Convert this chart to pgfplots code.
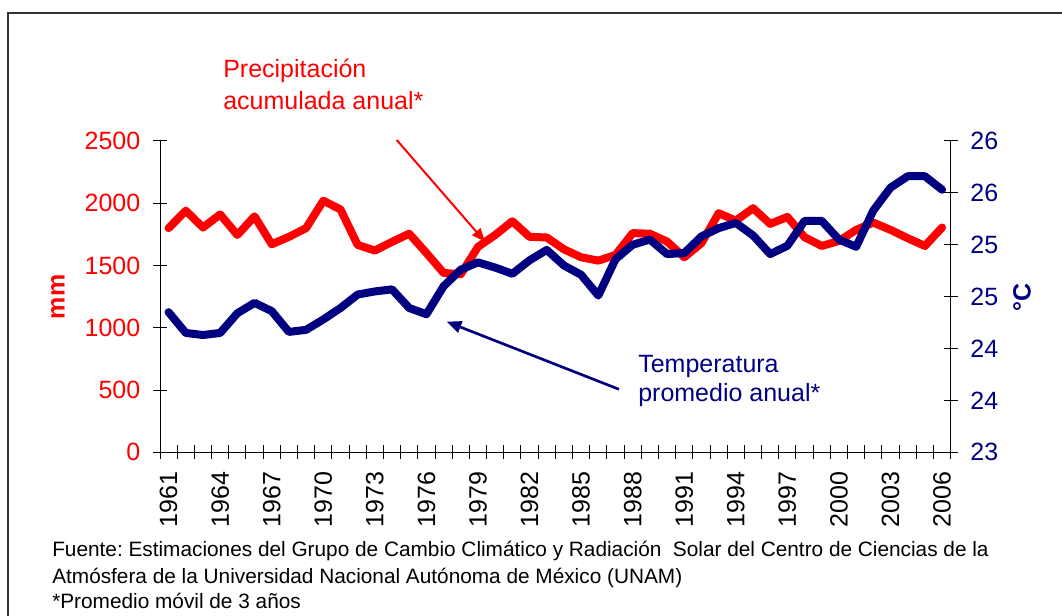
\documentclass[border=0pt]{standalone}
\usepackage{pgfplots}
\pgfplotsset{compat=1.18}
\usepackage{pgfplotstable}
\usepackage{fontspec}
\setmainfont{Liberation Sans}
\usetikzlibrary{arrows.meta}
\definecolor{myred}{HTML}{FF0000}
\definecolor{navy}{HTML}{000080}

\pgfplotstableread{
i mm
0 1800
1 1940
2 1805
3 1910
4 1745
5 1895
6 1670
7 1730
8 1800
9 2020
10 1950
11 1665
12 1620
13 1690
14 1755
15 1600
16 1440
17 1430
18 1650
19 1745
20 1855
21 1730
22 1725
23 1630
24 1566
25 1539
26 1585
27 1760
28 1755
29 1692
30 1566
31 1679
32 1920
33 1860
34 1960
35 1834
36 1890
37 1727
38 1657
39 1697
40 1786
41 1844
42 1786
43 1719
44 1657
45 1805
}\precip

\pgfplotstableread{
i t
0 24.35
1 24.15
2 24.13
3 24.15
4 24.34
5 24.44
6 24.36
7 24.16
8 24.18
9 24.28
10 24.39
11 24.52
12 24.55
13 24.57
14 24.39
15 24.33
16 24.60
17 24.76
18 24.83
19 24.78
20 24.72
21 24.85
22 24.95
23 24.80
24 24.71
25 24.51
26 24.86
27 25.00
28 25.05
29 24.91
30 24.92
31 25.08
32 25.16
33 25.21
34 25.09
35 24.91
36 24.99
37 25.23
38 25.23
39 25.05
40 24.98
41 25.33
42 25.55
43 25.66
44 25.66
45 25.53
}\temp

\newcommand{\bigf}{\fontsize{18.75}{20}\selectfont}
\newcommand{\smallf}{\fontsize{15.6}{17}\selectfont}

\begin{document}
\frenchspacing
\begin{tikzpicture}[x=0.75pt,y=0.75pt]
\useasboundingbox (0,0) rectangle (1062,616);
\draw[line width=1.5pt,black!80] (8,0) -- (8,603) -- (1062,603);

\begin{axis}[
  at={(120pt,122.78pt)}, anchor=south west,
  scale only axis, width=593pt, height=233.5pt,
  xmin=-0.5, xmax=45.5, ymin=0, ymax=2500,
  axis x line*=bottom, axis y line*=left,
  axis line style={line width=0.75pt,-},
  tick align=center, major tick length=10.5pt,
  tick style={black, line width=0.75pt},
  xtick={-0.5,0.5,...,45.5}, xticklabels={},
  extra x ticks={0,3,...,45},
  extra x tick labels={1961,1964,1967,1970,1973,1976,1979,1982,1985,1988,1991,1994,1997,2000,2003,2006},
  extra x tick style={major tick style={draw=none}, tick label style={rotate=90, anchor=east, font=\bigf, black, xshift=-6pt}},
  ytick={0,500,1000,1500,2000,2500}, yticklabels={0,500,1000,1500,2000,2500},
  yticklabel style={font=\bigf, text=myred, xshift=-6pt},
  clip=false,
]
\addplot[myred, line width=6pt, line join=round, line cap=round] table[x=i,y=mm]{\precip};
\end{axis}

\begin{axis}[
  at={(120pt,122.78pt)}, anchor=south west,
  scale only axis, width=593pt, height=233.5pt,
  xmin=-0.5, xmax=45.5, ymin=23, ymax=26,
  axis x line=none, axis y line*=right,
  axis line style={line width=0.75pt,-},
  tick align=center, major tick length=10.5pt,
  tick style={black, line width=0.75pt},
  ytick={23,23.5,24,24.5,25,25.5,26}, yticklabels={23,24,24,25,25,26,26},
  yticklabel style={font=\bigf, text=navy, xshift=6pt},
  clip=false,
]
\addplot[navy, line width=6pt, line join=round, line cap=round] table[x=i,y=t]{\temp};
\end{axis}

\node[anchor=base west, text=myred, font=\bigf, inner sep=0pt] at (223,538) {Precipitación};
\node[anchor=base west, text=myred, font=\bigf, inner sep=0pt] at (223,506) {acumulada anual*};
\draw[myred, line width=1.5pt, -{Triangle[length=10pt,width=8pt]}] (396.7,476) -- (485,374.3);

\node[anchor=base west, text=navy, font=\bigf, inner sep=0pt] at (638,243) {Temperatura};
\node[anchor=base west, text=navy, font=\bigf, inner sep=0pt] at (638,214) {promedio anual*};
\draw[navy, line width=2pt, -{Triangle[length=11pt,width=9pt]}] (619,226.7) -- (446.7,294.3);

\node[rotate=90, text=myred, font=\bigf\bfseries, inner sep=0pt] at (58,319) {mm};
\node[rotate=90, text=navy, font=\bigf\bfseries, inner sep=0pt] at (1022,319) {°C};

\node[anchor=base west, font=\smallf, inner sep=0pt] at (52,59) {Fuente: Estimaciones del Grupo de Cambio Climático y Radiación\ \ Solar del Centro de Ciencias de la};
\node[anchor=base west, font=\smallf, inner sep=0pt] at (52,32) {Atmósfera de la Universidad Nacional Autónoma de México (UNAM)};
\node[anchor=base west, font=\smallf, inner sep=0pt] at (52,7) {*Promedio móvil de 3 años};
\end{tikzpicture}
\end{document}
